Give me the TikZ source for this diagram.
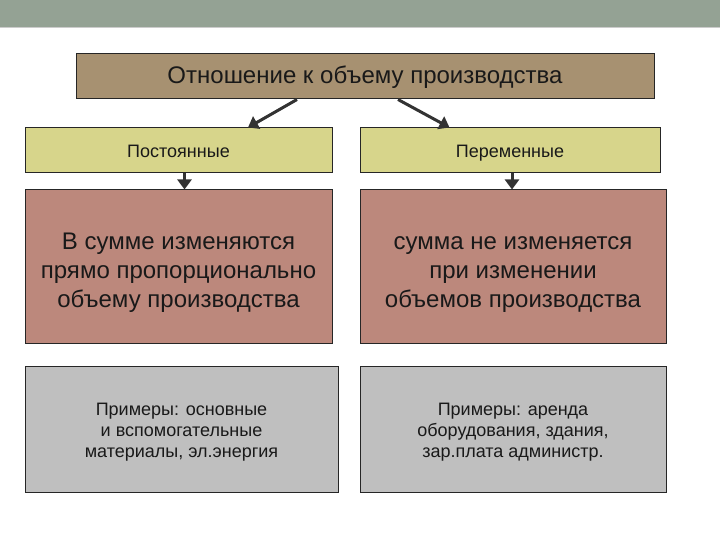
\documentclass[tikz,border=0pt]{standalone}
\usepackage{fontspec}
\setmainfont{Liberation Sans}
\usetikzlibrary{arrows.meta}
\definecolor{bandgreen}{RGB}{148,162,148}
\definecolor{topbrown}{RGB}{167,145,113}
\definecolor{paleyellow}{RGB}{215,213,139}
\definecolor{rosebrown}{RGB}{188,136,124}
\definecolor{boxgray}{RGB}{191,191,191}
\newcommand{\rulestrut}{\rule{0pt}{29pt}}
\newcommand{\exstrut}{\rule{0pt}{18.5pt}}
\tikzset{
  box/.style={draw=black!85, line width=1pt, align=center, inner sep=0pt, text=black!90},
  topbox/.style={box, fill=topbrown, minimum width=578pt, minimum height=45pt, text height=19pt, text depth=5pt, font=\fontsize{24}{28}\selectfont},
  kindbox/.style={box, fill=paleyellow, minimum height=45pt, text height=17pt, text depth=3.8pt, font=\fontsize{18}{21}\selectfont},
  rulebox/.style={box, fill=rosebrown, minimum height=153pt, font=\fontsize{24}{29}\selectfont},
  examplebox/.style={box, fill=boxgray, minimum height=126pt, font=\fontsize{18}{21}\selectfont},
  arr/.style={draw=black!80, line width=3pt, -{Triangle[length=10pt,width=14pt]}}
}
\begin{document}
\begin{tikzpicture}[x=1pt,y=-1pt]
\useasboundingbox (0,0) rectangle (720,540);
\fill[bandgreen] (0,0) rectangle (720,27);
\draw[black!20, line width=1pt] (0,28) -- (720,28);
\node[topbox] (rel) at (365,76.5) {Отношение к объему производства};
\node[kindbox, minimum width=307pt] (fixed) at (178.5,150.5) {Постоянные};
\node[kindbox, minimum width=300pt] (var) at (510,150.5) {Переменные};
\node[rulebox, minimum width=307pt] (fixedrule) at (178.5,266.5) {\rulestrut В сумме изменяются\\прямо пропорционально\\объему производства};
\node[rulebox, minimum width=306pt] (varrule) at (513,266.5) {\rulestrut сумма не изменяется\\при изменении\\объемов производства};
\node[examplebox, minimum width=313pt] (fixedex) at (181.5,429) {\exstrut Примеры: основные\\и вспомогательные\\материалы, эл.энергия};
\node[examplebox, minimum width=306pt] (varex) at (513,429) {\exstrut Примеры: аренда\\оборудования, здания,\\зар.плата администр.};
\draw[arr] ([xshift=-68pt]rel.south) -- ([xshift=69.5pt]fixed.north);
\draw[arr] ([xshift=33pt]rel.south) -- ([xshift=-60.5pt]var.north);
\draw[arr] ([xshift=6pt]fixed.south) -- ([xshift=6pt]fixedrule.north);
\draw[arr] ([xshift=2pt]var.south) -- ([xshift=-1pt]varrule.north);
\end{tikzpicture}
\end{document}
